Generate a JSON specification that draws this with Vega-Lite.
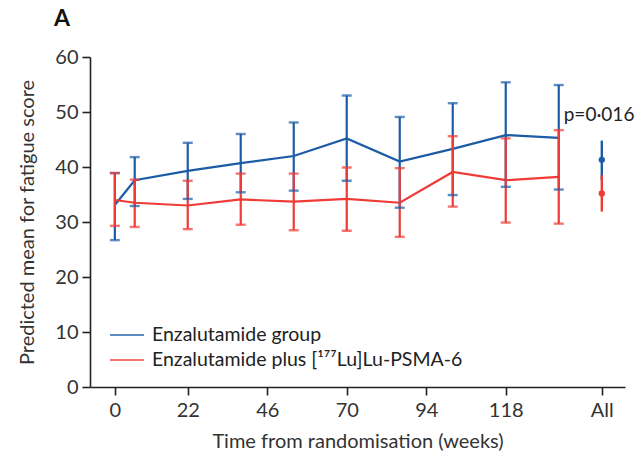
{
  "$schema": "https://vega.github.io/schema/vega-lite/v6.json",
  "width": 535,
  "height": 330,
  "autosize": {"type": "none"},
  "padding": {"left": 90, "top": 57, "right": 16, "bottom": 72},
  "background": "white",
  "title": {"text": "A", "anchor": "start", "frame": "group", "dx": -36, "offset": 16, "fontSize": 23, "fontWeight": "bold", "font": "Lato", "color": "#111"},
  "datasets": {
    "series": [
      {"group": "Enzalutamide group", "week": 0, "mean": 33.1, "lo": 26.7, "hi": 38.9},
      {"group": "Enzalutamide group", "week": 6, "mean": 37.6, "lo": 32.9, "hi": 41.8},
      {"group": "Enzalutamide group", "week": 22, "mean": 39.3, "lo": 34.2, "hi": 44.4},
      {"group": "Enzalutamide group", "week": 38, "mean": 40.7, "lo": 35.4, "hi": 46.0},
      {"group": "Enzalutamide group", "week": 54, "mean": 42.0, "lo": 35.7, "hi": 48.1},
      {"group": "Enzalutamide group", "week": 70, "mean": 45.2, "lo": 37.5, "hi": 53.0},
      {"group": "Enzalutamide group", "week": 86, "mean": 41.0, "lo": 32.6, "hi": 49.1},
      {"group": "Enzalutamide group", "week": 102, "mean": 43.3, "lo": 34.9, "hi": 51.6},
      {"group": "Enzalutamide group", "week": 118, "mean": 45.8, "lo": 36.4, "hi": 55.4},
      {"group": "Enzalutamide group", "week": 134, "mean": 45.3, "lo": 35.9, "hi": 54.9},
      {"group": "Enzalutamide plus [¹⁷⁷Lu]Lu-PSMA-6", "week": 0, "mean": 34.0, "lo": 29.3, "hi": 38.9},
      {"group": "Enzalutamide plus [¹⁷⁷Lu]Lu-PSMA-6", "week": 6, "mean": 33.5, "lo": 29.1, "hi": 37.7},
      {"group": "Enzalutamide plus [¹⁷⁷Lu]Lu-PSMA-6", "week": 22, "mean": 33.0, "lo": 28.7, "hi": 37.5},
      {"group": "Enzalutamide plus [¹⁷⁷Lu]Lu-PSMA-6", "week": 38, "mean": 34.1, "lo": 29.5, "hi": 38.8},
      {"group": "Enzalutamide plus [¹⁷⁷Lu]Lu-PSMA-6", "week": 54, "mean": 33.7, "lo": 28.5, "hi": 38.8},
      {"group": "Enzalutamide plus [¹⁷⁷Lu]Lu-PSMA-6", "week": 70, "mean": 34.2, "lo": 28.4, "hi": 39.9},
      {"group": "Enzalutamide plus [¹⁷⁷Lu]Lu-PSMA-6", "week": 86, "mean": 33.5, "lo": 27.3, "hi": 39.8},
      {"group": "Enzalutamide plus [¹⁷⁷Lu]Lu-PSMA-6", "week": 102, "mean": 39.1, "lo": 32.8, "hi": 45.6},
      {"group": "Enzalutamide plus [¹⁷⁷Lu]Lu-PSMA-6", "week": 118, "mean": 37.6, "lo": 29.9, "hi": 45.2},
      {"group": "Enzalutamide plus [¹⁷⁷Lu]Lu-PSMA-6", "week": 134, "mean": 38.2, "lo": 29.7, "hi": 46.7}
    ],
    "overall": [
      {"group": "Enzalutamide group", "week": 147, "mean": 41.3, "lo": 37.6, "hi": 44.8},
      {"group": "Enzalutamide plus [¹⁷⁷Lu]Lu-PSMA-6", "week": 147, "mean": 35.2, "lo": 31.9, "hi": 38.5}
    ],
    "pval": [
      {"week": 135.5, "value": 49.5, "label": "p=0·016"}
    ]
  },
  "encoding": {
    "x": {
      "field": "week", "type": "quantitative",
      "scale": {"domain": [-7.5, 154], "nice": false, "zero": false},
      "axis": {
        "values": [0, 22, 46, 70, 94, 118, 147],
        "labelExpr": "datum.value == 147 ? 'All' : datum.label",
        "title": "Time from randomisation (weeks)",
        "grid": false, "tickSize": 8, "labelPadding": 5, "labelFontSize": 20, "titleFontSize": 20, "titlePadding": 11,
        "titleFontWeight": "normal"
      }
    }
  },
  "layer": [
    {
      "data": {"name": "series"},
      "mark": {"type": "line", "strokeWidth": 2.2},
      "encoding": {
        "y": {
          "field": "mean", "type": "quantitative",
          "scale": {"domain": [0, 60], "nice": false},
          "axis": {
            "values": [0, 10, 20, 30, 40, 50, 60],
            "title": "Predicted mean for fatigue score",
            "grid": false, "tickSize": 8, "labelPadding": 4, "labelFontSize": 20, "titleFontSize": 20, "titlePadding": 17,
            "titleFontWeight": "normal"
          }
        },
        "xOffset": {"field": "group", "type": "nominal", "scale": {"range": [-2, 2]}},
        "color": {
          "field": "group", "type": "nominal",
          "scale": {"domain": ["Enzalutamide group", "Enzalutamide plus [¹⁷⁷Lu]Lu-PSMA-6"], "range": ["#1c5ca6", "#ef3b36"]},
          "legend": {
            "orient": "none", "legendX": 19, "legendY": 267, "title": null,
            "symbolType": "stroke", "symbolSize": 1150, "symbolStrokeWidth": 2,
            "labelFontSize": 19.5, "labelColor": "#222", "rowPadding": 3, "clipHeight": 22, "labelOffset": 7, "labelLimit": 0
          }
        }
      }
    },
    {
      "data": {"name": "series"},
      "mark": {"type": "rule", "strokeWidth": 2.2},
      "encoding": {
        "y": {"field": "lo", "type": "quantitative"},
        "y2": {"field": "hi"},
        "xOffset": {"field": "group", "type": "nominal", "scale": {"range": [-2, 2]}},
        "color": {"field": "group", "type": "nominal"}
      }
    },
    {
      "data": {"name": "series"},
      "mark": {"type": "tick", "orient": "horizontal", "size": 10, "thickness": 2.4},
      "encoding": {
        "y": {"field": "lo", "type": "quantitative"},
        "xOffset": {"field": "group", "type": "nominal", "scale": {"range": [-2, 2]}},
        "color": {"field": "group", "type": "nominal"}
      }
    },
    {
      "data": {"name": "series"},
      "mark": {"type": "tick", "orient": "horizontal", "size": 10, "thickness": 2.4},
      "encoding": {
        "y": {"field": "hi", "type": "quantitative"},
        "xOffset": {"field": "group", "type": "nominal", "scale": {"range": [-2, 2]}},
        "color": {"field": "group", "type": "nominal"}
      }
    },
    {
      "data": {"name": "overall"},
      "mark": {"type": "rule", "strokeWidth": 2.4},
      "encoding": {
        "y": {"field": "lo", "type": "quantitative"},
        "y2": {"field": "hi"},
        "xOffset": {"field": "group", "type": "nominal", "scale": {"range": [-2, 2]}},
        "color": {"field": "group", "type": "nominal"}
      }
    },
    {
      "data": {"name": "overall"},
      "mark": {"type": "point", "filled": true, "size": 40, "opacity": 1},
      "encoding": {
        "y": {"field": "mean", "type": "quantitative"},
        "xOffset": {"field": "group", "type": "nominal", "scale": {"range": [-2, 2]}},
        "color": {"field": "group", "type": "nominal"}
      }
    },
    {
      "data": {"name": "pval"},
      "mark": {"type": "text", "align": "left", "baseline": "middle", "fontSize": 19, "color": "#222"},
      "encoding": {
        "y": {"field": "value", "type": "quantitative"},
        "text": {"field": "label"}
      }
    }
  ],
  "config": {
    "font": "Lato",
    "view": {"stroke": null},
    "axis": {"domainColor": "#222", "tickColor": "#222", "domainWidth": 1.6, "tickWidth": 1.6, "labelColor": "#333", "titleColor": "#333", "labelFont": "Lato", "titleFont": "Lato"},
    "legend": {"labelFont": "Lato"}
  }
}
